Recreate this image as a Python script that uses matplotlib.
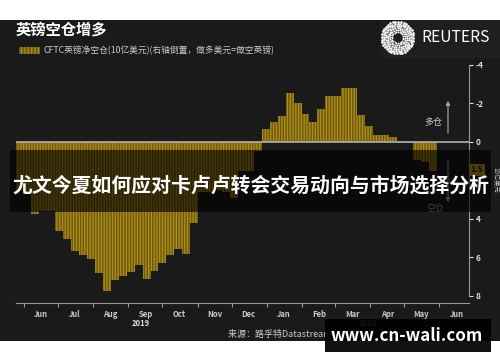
import numpy as np
import pandas as pd
import matplotlib
matplotlib.use('Agg')
import matplotlib.pyplot as plt
import matplotlib.dates as mdates
from matplotlib.patches import Rectangle

plt.rcParams['font.family'] = ['Noto Sans CJK SC', 'DejaVu Sans']
plt.rcParams['hatch.linewidth'] = 0.9

# weekly CFTC net short GBP positions (USD bn), right axis inverted
week_start = '2019-05-28'
net_short = [2.5, 2.7, 3.76, 3.59, 3.59, 4.66, 5.04, 5.70, 5.90, 6.08,
             6.82, 7.77, 7.20, 7.00, 6.79, 6.42, 7.11, 6.70, 6.30, 5.90,
             5.56, 5.82, 4.20, 2.60, 2.60, 2.50, 2.60, 2.93, 1.50, 1.50,
             0.47, -0.69, -1.02, -1.33, -2.56, -2.02, -1.43, -1.06, -1.69, -2.37,
             -2.40, -2.82, -2.82, -1.42, -0.81, -0.38, -0.38, -0.24, 0.08, 0.08,
             0.93, 1.04, 1.50]
dates = pd.date_range(week_start, periods=len(net_short), freq='7D')

y_ticks = [-4, -2, 0, 4, 6, 8]
last_label = '1.5'

title = '英镑空仓增多'
legend_text = 'CFTC英镑净空仓(10亿美元)(右轴倒置，做多美元=做空英镑)'
banner_text = '尤文今夏如何应对卡卢卢转会交易动向与市场选择分析'
source_text = '来源：路孚特Datastream | 路透制图'
watermark = 'www.cn-wali.com'

BG = '#1a1a1a'
GOLD = '#6e5a0e'
STRIPE = '#b0901a'
W, H = 500, 362


def fx(x):
    return x / W


def fy(y):
    return 1 - y / H


fig = plt.figure(figsize=(5, 3.62), dpi=100)
fig.patch.set_facecolor('white')
fig.add_artist(Rectangle((0, fy(341)), 1, (341 - 20) / H, transform=fig.transFigure,
                         facecolor=BG, edgecolor='none', zorder=-10))
fig.add_artist(Rectangle((fx(380), fy(58)), 1 - fx(380), 38 / H, transform=fig.transFigure,
                         facecolor='#1f1f1f', edgecolor='none', zorder=-9))

ax = fig.add_axes([fx(16), fy(303), fx(469) - fx(16), (303 - 65) / H])
ax.patch.set_alpha(0)

ax.bar(dates, net_short, width=7, color=GOLD, edgecolor=STRIPE, linewidth=0,
       hatch='||||||', zorder=2)
ax.axhline(0, color='#b0b0b0', lw=1.2, zorder=3)

ax.set_xlim(pd.Timestamp('2019-05-25'), pd.Timestamp('2020-06-27'))
ax.set_ylim(8.38, -4.0)

ax.yaxis.tick_right()
ax.set_yticks(y_ticks)
ax.set_yticklabels([str(t) for t in y_ticks])
ax.tick_params(axis='y', colors='#dddddd', labelsize=6, length=3, width=0.8, pad=2)
for lab in ax.get_yticklabels():
    lab.set_fontweight('bold')

ax.xaxis.set_major_locator(mdates.MonthLocator())
ax.xaxis.set_major_formatter(plt.NullFormatter())
ax.xaxis.set_minor_locator(mdates.MonthLocator(bymonthday=16))
ax.xaxis.set_minor_formatter(mdates.DateFormatter('%b'))
ax.tick_params(axis='x', which='major', colors='#999999', length=3, width=0.8)
ax.tick_params(axis='x', which='minor', length=0, labelsize=5.5, labelcolor='#cccccc', pad=5)
for lab in ax.get_xticklabels(minor=True):
    lab.set_fontweight('bold')

for side in ['top', 'left']:
    ax.spines[side].set_visible(False)
ax.spines['right'].set_color('#999999')
ax.spines['right'].set_bounds(-4, 8)
ax.spines['bottom'].set_color('#999999')

# long / short annotations
ax.annotate('', xy=(fx(448), fy(98)), xycoords='figure fraction',
            xytext=(fx(448), fy(136)), textcoords='figure fraction',
            arrowprops=dict(arrowstyle='-|>', color='#aaaaaa', lw=0.8, mutation_scale=6))
ax.annotate('', xy=(fx(448), fy(205)), xycoords='figure fraction',
            xytext=(fx(448), fy(157)), textcoords='figure fraction',
            arrowprops=dict(arrowstyle='-|>', color='#aaaaaa', lw=0.8, mutation_scale=6))
fig.text(fx(433), fy(122), '多仓', color='#cccccc', fontsize=6.5, ha='center', va='center')
fig.text(fx(435), fy(209), '空仓', color='#999999', fontsize=6.5, ha='center', va='center')

# last value tag
fig.text(fx(477), fy(170), last_label, color='#1a1a1a', fontsize=6, fontweight='bold',
         ha='center', va='center',
         bbox=dict(boxstyle='square,pad=0.2', facecolor='#c9a21c', edgecolor='none'))
fig.text(fx(495), fy(180), '10亿美元', color='#cccccc', fontsize=4.5, rotation=270,
         ha='center', va='center')

# header
fig.text(fx(16), fy(30), title, color='white', fontsize=11, fontweight='bold', va='center')
fig.add_artist(Rectangle((fx(19), fy(54)), fx(21), 7 / H, transform=fig.transFigure,
                         facecolor=GOLD, edgecolor=STRIPE, linewidth=0, hatch='|||||'))
fig.text(fx(44), fy(51), legend_text, color='#cccccc', fontsize=6.3, va='center')

# reuters logo
lax = fig.add_axes([fx(380), fy(55), fx(35), 35 / H])
lax.set_xlim(-1.1, 1.1)
lax.set_ylim(-1.1, 1.1)
lax.set_aspect('equal')
lax.axis('off')
for k, r in enumerate(np.linspace(0.35, 1.0, 6)):
    n = int(14 + 22 * r)
    ang = np.linspace(0, 2 * np.pi, n, endpoint=False) + k * 0.2
    lax.scatter(r * np.cos(ang), r * np.sin(ang), s=0.6 + 3.2 * r, color='white', lw=0)
fig.text(fx(421), fy(38), 'REUTERS', color='white', fontsize=11.2, va='center')

# footer
fig.text(fx(141), fy(324), '2019', color='#dddddd', fontsize=5.5, fontweight='bold',
         ha='center', va='center')
fig.text(fx(368), fy(324), '2020', color='#dddddd', fontsize=5.5, fontweight='bold',
         ha='center', va='center')
fig.text(fx(228), fy(334), source_text, color='#cccccc', fontsize=6.5, va='center')

# overlays
fig.add_artist(Rectangle((fx(10), fy(212)), fx(481), 62 / H, transform=fig.transFigure,
                         facecolor='black', alpha=0.62, edgecolor='none', zorder=10))
fig.text(fx(251), fy(185), banner_text, color='white', fontsize=14.3, fontweight='bold',
         ha='center', va='center', zorder=11)
fig.add_artist(Rectangle((fx(325), fy(352)), fx(166), 33 / H, transform=fig.transFigure,
                         facecolor='black', alpha=0.93, edgecolor='none', zorder=10))
fig.text(fx(407), fy(336), watermark, color='white', fontsize=12.2, fontweight='bold',
         ha='center', va='center', zorder=11)

fig.savefig('out.png', dpi=100)
